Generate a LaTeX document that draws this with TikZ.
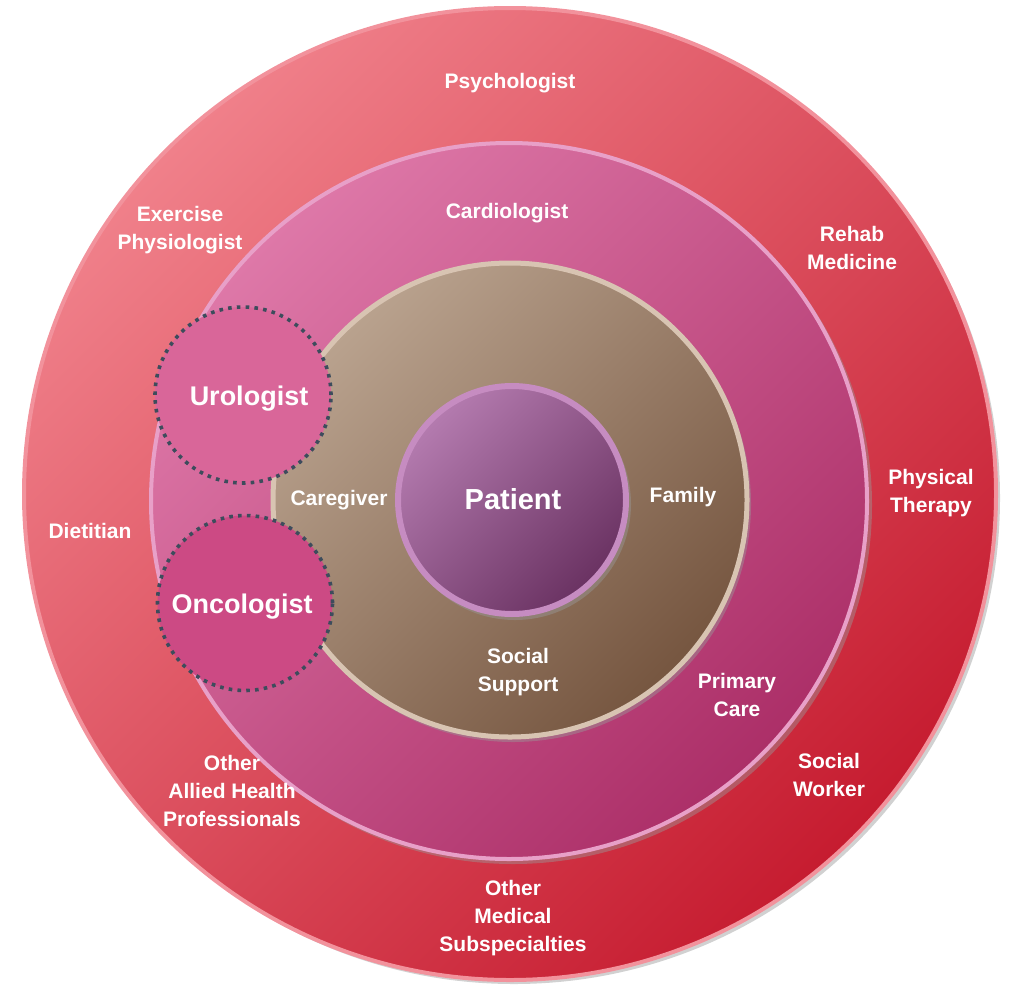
\documentclass[tikz,border=0pt]{standalone}
\usepackage{fontspec}
\setmainfont{Liberation Sans}
\definecolor{outerlight}{HTML}{F0808A}
\definecolor{outerdark}{HTML}{C61C30}
\definecolor{outerrim}{HTML}{F2929C}
\definecolor{midlight}{HTML}{DE78A8}
\definecolor{middark}{HTML}{AC2F68}
\definecolor{midrim}{HTML}{E8A0C8}
\definecolor{brownlight}{HTML}{B9A28E}
\definecolor{browndark}{HTML}{765640}
\definecolor{brownrim}{HTML}{D8C4B2}
\definecolor{patlight}{HTML}{B47BAF}
\definecolor{patdark}{HTML}{6A3262}
\definecolor{patrim}{HTML}{C68CC1}
\definecolor{urofill}{HTML}{D96699}
\definecolor{oncofill}{HTML}{CC4A84}
\definecolor{dotgray}{HTML}{3D4C5C}
\tikzset{
  ring/.style={circle, inner sep=0pt, outer sep=0pt},
  shadowring/.style={ring, fill=black!40, opacity=0.45},
  dotring/.style={ring, draw=dotgray, line width=3.6pt, dash pattern=on 3.6pt off 5.2pt},
  lbl/.style={text=white, align=center, font=\fontsize{21}{28}\selectfont\bfseries},
  biglbl/.style={text=white, align=center, font=\fontsize{27}{32}\selectfont\bfseries},
}
\begin{document}
\begin{tikzpicture}[x=1pt, y=-1pt]
\useasboundingbox (0,0) rectangle (1024,1001);
\node[shadowring, minimum size=972pt] (outershadow) at (514,498) {};
\node[ring, minimum size=972pt, draw=outerrim, line width=4pt, top color=outerlight, bottom color=outerdark, shading angle=45] (outer) at (510,494) {};
\node[shadowring, minimum size=718pt] (midshadow) at (513,505) {};
\node[ring, minimum size=716pt, draw=midrim, line width=4pt, top color=midlight, bottom color=middark, shading angle=45] (middle) at (509,501) {};
\node[shadowring, minimum size=476pt] (brownshadow) at (513,504) {};
\node[ring, minimum size=474pt, draw=brownrim, line width=5pt, top color=brownlight, bottom color=browndark, shading angle=45] (support) at (510,500) {};
\node[shadowring, minimum size=232pt] (patshadow) at (515,504) {};
\node[ring, minimum size=228pt, draw=patrim, line width=6pt, top color=patlight, bottom color=patdark, shading angle=45] (patient) at (512,500) {};
\node[ring, dotring, fill=urofill, minimum size=176pt] (uro) at (243,395) {};
\node[ring, dotring, fill=oncofill, minimum size=175pt] (onco) at (245,603) {};
\node[biglbl, font=\fontsize{29}{34}\selectfont\bfseries] (patientlbl) at (513,499) {Patient};
\node[biglbl] (urolbl) at (249,399) {Urologist};
\node[biglbl] (oncolbl) at (242,607) {Oncologist};
\node[lbl] (psych) at (510,83) {Psychologist};
\node[lbl] (cardio) at (507,213) {Cardiologist};
\node[lbl] (exercise) at (180,230) {Exercise\\Physiologist};
\node[lbl] (rehab) at (852,248) {Rehab\\Medicine};
\node[lbl] (physical) at (931,493) {Physical\\Therapy};
\node[lbl] (dietitian) at (90,531) {Dietitian};
\node[lbl] (caregiver) at (339,500) {Caregiver};
\node[lbl] (family) at (683,497) {Family};
\node[lbl] (social) at (518,672) {Social\\Support};
\node[lbl] (primary) at (737,695) {Primary\\Care};
\node[lbl] (worker) at (829,775) {Social\\Worker};
\node[lbl] (allied) at (232,791) {Other\\Allied Health\\Professionals};
\node[lbl] (subspec) at (513,918) {Other\\Medical\\Subspecialties};
\end{tikzpicture}
\end{document}
